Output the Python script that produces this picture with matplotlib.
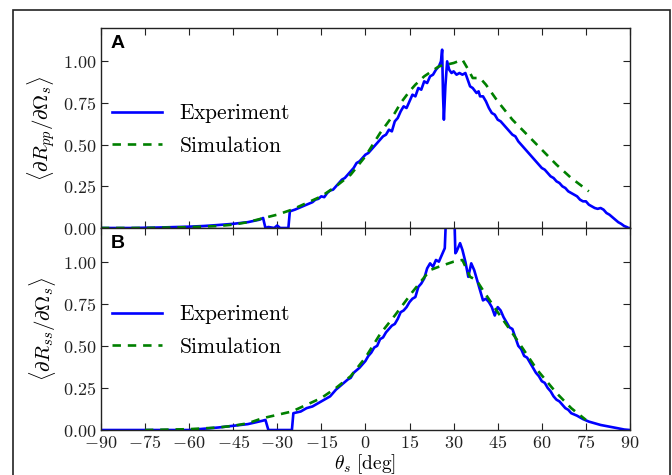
import numpy as np
import matplotlib
matplotlib.use('Agg')
import matplotlib.pyplot as plt
from matplotlib.patches import Rectangle

plt.rcParams['mathtext.fontset'] = 'cm'

# panel A (pp), (theta, value) pairs
exp_pp = [(-90, 0.0), (-80, 0.0), (-70, 0.003), (-60, 0.008), (-55, 0.012), (-50, 0.018), (-45, 0.025),
          (-40, 0.035), (-36, 0.05), (-34.8, 0.06), (-34, 0.0), (-33, 0.006), (-31, 0.0), (-30, 0.015),
          (-29, 0.0), (-26.2, 0.0), (-25.7, 0.10), (-24, 0.11), (-22, 0.125), (-20, 0.14), (-18, 0.155),
          (-17, 0.17), (-16, 0.175), (-15, 0.19), (-14, 0.185), (-13, 0.21), (-12, 0.225), (-11, 0.23),
          (-10, 0.25), (-9, 0.27), (-8, 0.29), (-7, 0.30), (-6, 0.32), (-5, 0.34), (-4, 0.36), (-3, 0.39),
          (-2, 0.40), (-1, 0.42), (0, 0.44), (1, 0.45), (2, 0.47), (3, 0.49), (4, 0.51), (5, 0.53),
          (6, 0.55), (7, 0.56), (8, 0.59), (9, 0.58), (10, 0.64), (11, 0.66), (12, 0.70), (13, 0.73),
          (14, 0.72), (15, 0.76), (16, 0.80), (17, 0.79), (18, 0.84), (19, 0.83), (20, 0.88), (21, 0.87),
          (22, 0.91), (23, 0.92), (24, 0.95), (25, 0.97), (25.7, 1.00), (26.1, 1.07), (26.4, 0.80),
          (26.7, 0.65), (27.2, 0.85), (27.8, 1.00), (28.5, 0.95), (29.3, 0.93), (30, 0.94), (31, 0.92),
          (32, 0.93), (33, 0.92), (34, 0.93), (35, 0.88), (35.6, 0.85), (36.5, 0.84), (37.8, 0.81),
          (38.5, 0.82), (39, 0.79), (40, 0.79), (41, 0.76), (42, 0.72), (43, 0.69), (44, 0.68), (45, 0.65),
          (46, 0.64), (47, 0.62), (48, 0.60), (49, 0.58), (50, 0.56), (51, 0.55), (52, 0.52), (53, 0.50),
          (54, 0.48), (55, 0.46), (56, 0.44), (57, 0.42), (58, 0.40), (59, 0.38), (60, 0.36), (61, 0.35),
          (62, 0.33), (63, 0.31), (64, 0.30), (65, 0.28), (66, 0.27), (67, 0.25), (68, 0.24), (69, 0.22),
          (70, 0.21), (71, 0.20), (72, 0.19), (73, 0.17), (74, 0.16), (75, 0.16), (76, 0.14), (77, 0.13),
          (78, 0.12), (79, 0.115), (80, 0.12), (81, 0.11), (82, 0.09), (83, 0.08), (84, 0.065), (85, 0.05),
          (86, 0.035), (87, 0.025), (88, 0.012), (89, 0.005), (89.5, 0.0), (90, 0.0)]
sim_pp = [(-90, 0.0), (-75, 0.0), (-60, 0.005), (-50, 0.012), (-45, 0.02), (-40, 0.035), (-35, 0.058),
          (-30, 0.08), (-25, 0.11), (-20, 0.15), (-15, 0.19), (-10, 0.25), (-5, 0.32), (0, 0.43), (5, 0.57),
          (10, 0.69), (12, 0.75), (15, 0.82), (17, 0.86), (20, 0.91), (25, 0.97), (30, 0.99), (33, 1.01),
          (35, 0.95), (36.5, 0.90), (39, 0.90), (41, 0.86), (45, 0.76), (50, 0.65), (55, 0.56), (60, 0.47),
          (65, 0.38), (70, 0.30), (76, 0.22)]

# panel B (ss)
exp_ss = [(-90, 0.0), (-60, 0.0), (-50, 0.015), (-45, 0.025), (-40, 0.035), (-35, 0.055), (-34, 0.06),
          (-33, 0.0), (-26, 0.0), (-25, 0.0), (-24.5, 0.10), (-22, 0.11), (-20, 0.13), (-18, 0.14),
          (-16, 0.16), (-14, 0.18), (-12, 0.20), (-10, 0.24), (-8, 0.27), (-6, 0.30), (-5, 0.31), (-4, 0.34),
          (-2, 0.37), (-1, 0.39), (0, 0.41), (1, 0.44), (2, 0.46), (3, 0.49), (4, 0.50), (5, 0.54), (6, 0.55),
          (7, 0.58), (8, 0.60), (9, 0.62), (10, 0.63), (11, 0.66), (12, 0.70), (13, 0.71), (14, 0.73),
          (15, 0.76), (16, 0.78), (17, 0.79), (18, 0.85), (19, 0.87), (20, 0.90), (21, 0.96), (22, 0.99),
          (23, 0.97), (24, 1.01), (25, 1.00), (26, 1.04), (27, 1.08), (27.5, 1.30), (28.5, 1.40),
          (29.5, 1.40), (30.3, 1.25), (30.6, 1.05), (31, 1.06), (32.2, 1.11), (33, 1.07), (34, 1.00),
          (35, 0.91), (36, 0.99), (37, 0.95), (38, 0.89), (39, 0.83), (40, 0.77), (41, 0.78), (42, 0.76),
          (43, 0.73), (44, 0.68), (45, 0.73), (46, 0.71), (47, 0.67), (48, 0.64), (49, 0.61), (50, 0.60),
          (51, 0.55), (52, 0.50), (53, 0.48), (54, 0.44), (55, 0.43), (56, 0.40), (57, 0.37), (58, 0.34),
          (59, 0.32), (60, 0.29), (61, 0.28), (62, 0.25), (63, 0.23), (64, 0.20), (65, 0.18), (66, 0.17),
          (67, 0.15), (68, 0.13), (69, 0.12), (70, 0.10), (72, 0.085), (74, 0.065), (76, 0.05), (78, 0.04),
          (80, 0.03), (83, 0.02), (86, 0.01), (88, 0.003), (90, 0.0)]
sim_ss = [(-75, 0.0), (-60, 0.005), (-50, 0.015), (-45, 0.025), (-40, 0.04), (-35, 0.07), (-30, 0.09),
          (-25, 0.11), (-20, 0.15), (-15, 0.19), (-10, 0.25), (-5, 0.32), (0, 0.43), (5, 0.57), (10, 0.68),
          (16, 0.82), (22, 0.95), (25, 0.97), (30, 1.00), (33, 1.01), (35.6, 0.91), (37.8, 0.89), (40, 0.83),
          (44.6, 0.71), (51.4, 0.54), (58.3, 0.36), (65, 0.22), (70, 0.13), (75, 0.06)]

xticks = [-90, -75, -60, -45, -30, -15, 0, 15, 30, 45, 60, 75, 90]
yticks = [0.0, 0.25, 0.5, 0.75, 1.0]
ylabels = [r'$\langle \partial R_{pp}/\partial \Omega_s \rangle$',
           r'$\langle \partial R_{ss}/\partial \Omega_s \rangle$']

fig = plt.figure(figsize=(6.72, 4.75), dpi=100)
fig.patches.append(Rectangle((13 / 672, -0.05), 657 / 672, 1.05 - 10 / 475, transform=fig.transFigure,
                             fill=False, edgecolor='#222222', linewidth=1.2))

ax1 = fig.add_axes([0.150, 0.52, 0.7875, 0.421])
ax2 = fig.add_axes([0.150, 0.0947, 0.7875, 0.4253])

panels = [(ax1, exp_pp, sim_pp, 'A'), (ax2, exp_ss, sim_ss, 'B')]
for i, (ax, ex, sm, tag) in enumerate(panels):
    ex = np.array(ex)
    sm = np.array(sm)
    ax.plot(ex[:, 0], ex[:, 1], color='#0000ff', lw=1.9, label=r'$\mathrm{Experiment}$')
    ax.plot(sm[:, 0], sm[:, 1], color='#008000', lw=1.9, ls=(0, (3.2, 2.6)), label=r'$\mathrm{Simulation}$')
    ax.set_xlim(-90, 90)
    ax.set_ylim(0, 1.2)
    ax.set_xticks(xticks)
    ax.set_yticks(yticks)
    ax.set_yticklabels(['$%.2f$' % v for v in yticks], fontsize=13)
    if i == 0:
        ax.set_xticklabels([])
    else:
        ax.set_xticklabels(['$%d$' % v for v in xticks], fontsize=13)
        ax.set_xlabel(r'$\theta_s\ [\mathrm{deg}]$', fontsize=14, va='center')
        ax.xaxis.set_label_coords(0.5, -0.17)
    ax.tick_params(direction='in', length=5, width=0.8, top=True, right=True, pad=3, colors='#222222')
    ax.set_ylabel(ylabels[i], fontsize=15, labelpad=4)
    for s in ax.spines.values():
        s.set_linewidth(1.0)
        s.set_color('#222222')
    ax.text(0.018, 0.965, tag, transform=ax.transAxes, fontsize=14, fontweight='bold',
            family='Liberation Sans', va='top', ha='left')
    ax.legend(loc='center left', bbox_to_anchor=(-0.015, 0.495), frameon=False, fontsize=15.5,
              handlelength=2.3, handletextpad=0.8, labelspacing=0.5)

fig.savefig('out.png', dpi=100)
